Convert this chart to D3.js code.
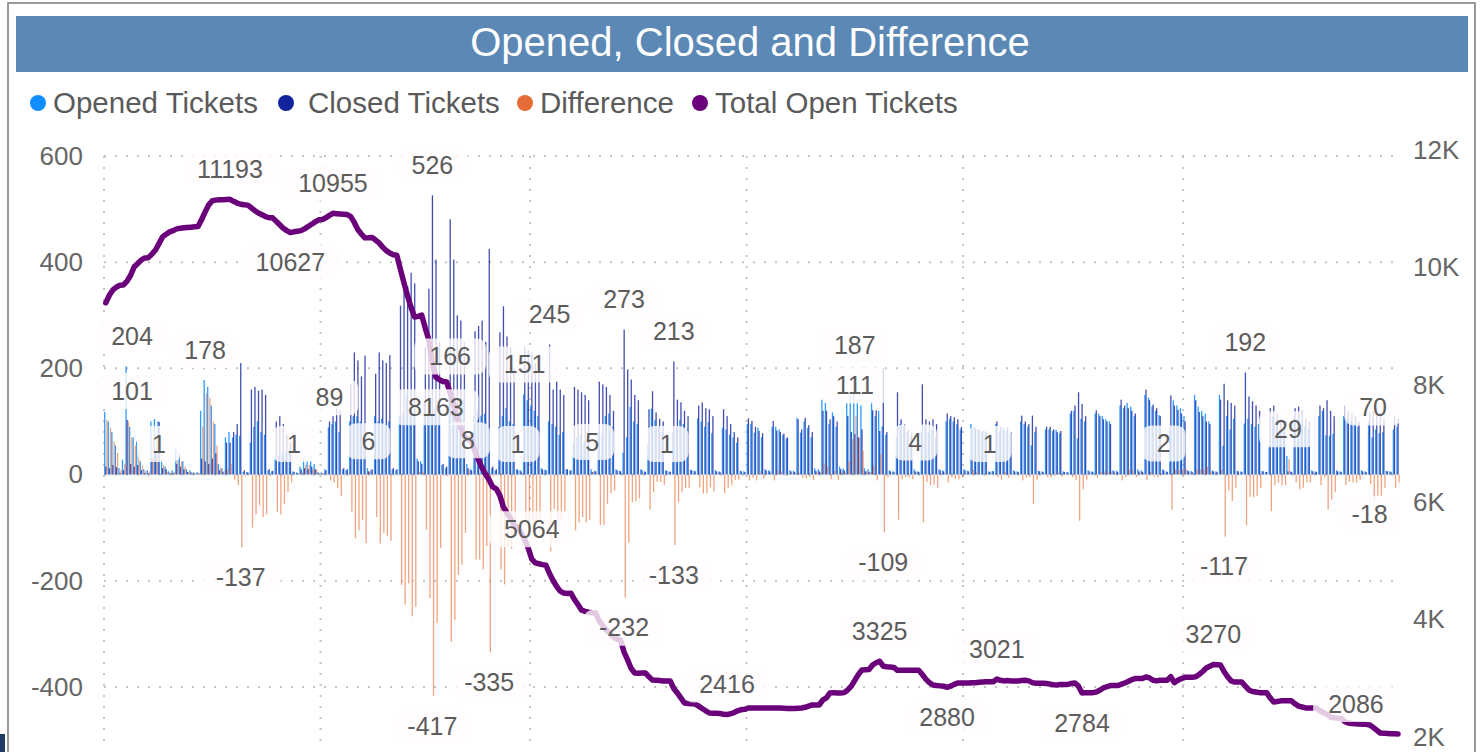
<!DOCTYPE html>
<html><head><meta charset="utf-8">
<script src="https://cdn.jsdelivr.net/npm/d3@7"></script>
<style>body{margin:0;background:#fff;} svg{display:block;font-family:"Liberation Sans",Arial,sans-serif;}</style>
</head><body><svg id="c" width="1482" height="752"></svg>
<script>
// ---------------- DATA ----------------
const startDate = "2022-11-01";   // daily series, one value per day (Tue..Mon rows)
const opened = [
118,100,80,55,12,28,204, 90,70,62,25,10,8,100, 105,100,30,15,6,8,48, 40,25,10,8,4,5,120,
178,165,130,95,20,12,70, 80,70,75,73,5,5,60, 90,100,80,75,8,6,30, 35,40,42,45,6,4,15,
30,28,25,20,5,4,10, 89,95,100,80,10,8,100, 110,110,100,95,12,8,110, 100,105,95,100,10,8,110,
115,150,113,111,30,25,136, 117,109,125,112,18,12,166, 131,111,120,140,20,10,110, 120,111,115,90,12,8,89,
110,125,100,95,10,8,151, 140,130,120,110,12,9,100, 95,90,75,80,10,7,60, 70,75,60,55,10,7,80,
75,110,115,90,10,7,41, 70,127,100,95,10,6,57, 124,103,91,80,8,6,80, 89,103,95,85,9,7,106,
100,90,99,78,8,6,88, 85,75,70,60,7,6,95, 95,79,88,70,10,8,90, 90,85,75,68,8,7,107,
79,100,88,70,12,10,141, 135,95,117,90,15,12,135, 147,187,140,130,12,10,138, 110,120,91,75,8,6,70,
95,90,80,70,10,6,80, 90,80,85,70,10,8,100, 105,100,95,85,10,7,95, 90,85,80,82,6,7,95,
80,90,82,78,8,6,100, 95,90,55,80,7,6,85, 85,82,84,78,6,5,115, 120,68,105,100,8,6,115,
115,110,104,100,8,7,130, 125,135,128,110,10,8,150, 145,128,120,112,10,6,83, 140,130,125,110,8,7,150,
128,120,115,100,8,6,150, 54,110,85,105,7,6,96, 105,95,90,95,7,5,56, 110,100,85,80,35,6,110,
100,95,90,85,8,6,110, 120,74,73,77,8,6,110, 106,100,95,90,8,6,100, 70,85,78,80,7,6,85,
90];
const closed = [
15,12,18,14,3,8,103, 20,15,18,8,3,2,30, 40,99,12,10,2,3,20, 15,10,5,4,2,2,30,
25,20,30,40,8,5,60, 60,80,95,210,8,4,160, 165,158,160,150,10,7,100, 110,95,75,60,5,3,10,
12,10,15,10,2,2,8, 100,110,125,121,12,10,170, 230,215,185,224,6,10,190, 230,215,210,225,12,10,318,
360,355,380,360,25,20,240, 350,526,405,250,20,15,481, 405,300,290,250,12,8,270, 280,290,250,425,15,10,268,
317,260,240,200,9,6,240, 235,230,210,200,10,8,245, 160,175,160,150,10,8,165, 160,155,150,140,5,6,175,
170,165,150,120,8,6,273, 198,179,150,140,8,5,123, 157,117,105,100,7,5,213, 141,136,120,110,8,6,130,
136,125,123,110,6,5,123, 110,95,80,70,6,5,106, 101,90,82,78,8,6,101, 83,80,77,70,6,5,104,
85,107,93,80,7,6,120, 120,104,110,100,10,8,110, 80,76,70,85,6,5,121, 121,82,200,80,6,5,155,
104,95,85,79,6,5,170, 104,100,104,95,8,6,115, 110,108,104,90,8,6,86, 86,84,82,80,5,6,100,
90,85,88,80,6,5,111, 100,95,111,90,6,5,90, 90,85,80,82,5,4,120, 130,155,133,110,6,5,121,
110,104,100,95,6,5,141, 130,125,120,115,6,5,160, 140,132,125,110,8,5,149, 130,122,115,100,6,5,140,
118,110,100,95,6,5,141, 171,140,135,130,6,5,192, 147,138,130,120,6,5,125, 130,115,105,100,6,5,125,
128,120,105,100,6,5,130, 125,140,120,110,6,5,130, 120,115,110,100,6,5,118, 120,125,118,105,6,5,110,
105];
const totalOpen = [
9430,9560,9650,9700,9730,9736,9800, 9900,10043,10100,10160,10196,10200,10260, 10330,10440,10554,10600,10640,10660,10690, 10700,10710,10715,10720,10725,10730,10850,
10980,11100,11170,11180,11185,11187,11190, 11193,11160,11130,11110,11100,11095,11050, 11000,10960,10930,10900,10880,10878,10820, 10760,10700,10660,10627,10640,10650,10660,
10690,10730,10770,10810,10844,10850,10880, 10920,10955,10950,10945,10940,10935,10900, 10800,10680,10600,10537,10540,10545,10500, 10450,10380,10320,10280,10250,10240,10000,
9770,9550,9350,9190,9200,9220,9000, 8800,8400,8163,8120,8090,8083,7900, 7700,7450,7300,7150,7100,7090,6900, 6754,6620,6510,6413,6294,6260,6150,
5953,5850,5760,5650,5600,5510,5400, 5250,5064,5000,4985,4970,4960,4820, 4700,4600,4520,4488,4480,4485,4380, 4290,4198,4175,4160,4150,4145,4010,
3930,3857,3800,3740,3700,3687,3480, 3346,3200,3125,3120,3125,3125,3060, 3005,3000,2995,2990,2990,2990,2860, 2784,2700,2613,2605,2600,2598,2560,
2520,2480,2443,2440,2438,2436,2420, 2416,2430,2450,2480,2500,2505,2528, 2528,2530,2530,2528,2528,2528,2530, 2528,2528,2525,2520,2520,2520,2525,
2528,2540,2560,2580,2580,2580,2665, 2700,2784,2790,2784,2784,2790,2835, 2900,3000,3100,3176,3180,3185,3260, 3300,3325,3240,3230,3225,3220,3170,
3170,3170,3172,3170,3170,3170,3100, 3020,2960,2920,2910,2905,2900,2880, 2900,2930,2954,2954,2954,2954,2960, 2960,2965,2970,2975,2975,2975,3021,
3000,2990,2995,2990,2990,2990,2995, 3000,2990,2960,2950,2950,2950,2945, 2935,2925,2920,2930,2930,2930,2945, 2954,2900,2784,2790,2790,2790,2800,
2830,2870,2890,2910,2910,2910,2930, 2954,2980,3010,3030,3030,3030,3056, 3040,3000,2990,3000,3000,3000,3060, 2960,3000,3030,3050,3050,3050,3060,
3100,3150,3210,3240,3270,3265,3260, 3150,3060,2990,2971,2970,2970,2900, 2835,2810,2800,2790,2790,2790,2700, 2630,2640,2650,2650,2650,2650,2600,
2560,2545,2530,2530,2530,2530,2480, 2450,2420,2375,2360,2355,2350,2300, 2273,2265,2260,2255,2250,2250,2240, 2200,2150,2102,2100,2095,2090,2088,
2086];
const difference = opened.map((v, i) => v - closed[i]);

const seriesNames = ["Opened Tickets", "Closed Tickets", "Difference", "Total Open Tickets"];
const leftTicks = [600, 400, 200, 0, -200, -400];
const rightTicks = [12000, 10000, 8000, 6000, 4000, 2000];
const gridDates = ["2022-11-01", "2023-01-01", "2023-03-01", "2023-05-01", "2023-07-01", "2023-09-01"];
// labelled points: series, day index, side
const labelSeries = ["total","total","total","total","total","total","total","total","total","total","total","total",
  "opened","opened","opened","opened","opened","opened","opened",
  "closed","closed","closed","closed","closed",
  "diff","diff","diff","diff","diff","diff","diff","diff","diff","diff","diff","diff","diff","diff","diff","diff","diff","diff","diff","diff","diff"];
const labelDay = [35,64,52,93,120,175,218,251,237,275,312,364,
  6,28,63,97,118,211,357,
  92,125,146,160,321,
  6,15,38,53,74,92,102,108,116,137,146,158,160,211,219,228,249,298,315,333,356];
const labelBelow = [0,0,1,1,0,0,0,0,1,1,0,0, 0,0,0,0,0,0,0, 0,0,0,0,0,
  0,0,1,0,0,1,0,1,0,0,1,0,1,0,1,0,0,0,1,0,1];

// ---------------- CHART ----------------
const svg = d3.select("#c");
const colors = d3.scaleOrdinal().domain(seriesNames).range(["#118DFF", "#12239E", "#E66C37", "#6B007B"]);
const parse = d3.utcParse("%Y-%m-%d");
const t0 = parse(startDate);
const days = opened.map((_, i) => d3.utcDay.offset(t0, i));
const x = d3.scaleUtc().domain([t0, d3.utcDay.offset(t0, 365)]).range([104, 104 + 365 * 3.55]);
const yL = d3.scaleLinear().domain([-500, 600]).range([740, 156]);
const yR = d3.scaleLinear().domain([2000, 12000]).range([739, 152]);
const bw = x(days[1]) - x(days[0]);

// frame + title
svg.append("rect").attr("x", 8).attr("y", 3).attr("width", 1467).attr("height", 800)
  .attr("fill", "none").attr("stroke", "#7a7a7a").attr("stroke-width", 1.5);
svg.append("rect").attr("x", 0).attr("y", 734).attr("width", 5).attr("height", 18).attr("fill", "#1f3b66");
svg.append("rect").attr("x", 16).attr("y", 16).attr("width", 1452).attr("height", 56).attr("fill", "#5b88b5");
svg.append("text").attr("x", 750).attr("y", 42).attr("dy", "0.35em").attr("text-anchor", "middle")
  .attr("fill", "#fff").attr("font-size", 40).text("Opened, Closed and Difference");

// legend
const legX = [38, 286, 525, 700];
const lg = svg.append("g").selectAll("g").data(seriesNames).join("g")
  .attr("transform", (d, i) => `translate(${legX[i]},103)`);
lg.append("circle").attr("r", 8).attr("fill", d => colors(d));
lg.append("text").attr("x", (d, i) => i === 1 ? 22 : 15).attr("dy", "0.35em").attr("font-size", 29.5)
  .attr("fill", "#5a5a5a").text(d => d);

// grid
const grid = svg.append("g").attr("stroke", "#c4c4c4").attr("stroke-width", 2).attr("stroke-dasharray", "2,9");
grid.selectAll("line.h").data(leftTicks).join("line").attr("class", "h")
  .attr("x1", 104).attr("x2", 1396).attr("y1", d => yL(d)).attr("y2", d => yL(d));
grid.selectAll("line.v").data(gridDates.map(parse)).join("line").attr("class", "v")
  .attr("x1", d => x(d)).attr("x2", d => x(d)).attr("y1", 156).attr("y2", 748);

// axes
const axL = svg.append("g").attr("transform", "translate(83,0)")
  .call(d3.axisLeft(yL).tickValues(leftTicks).tickSize(0).tickPadding(0).tickFormat(d => String(d)));
const axR = svg.append("g").attr("transform", "translate(1413,-2)")
  .call(d3.axisRight(yR).tickValues(rightTicks).tickSize(0).tickPadding(0).tickFormat(d => d / 1000 + "K"));
[axL, axR].forEach(a => {
  a.select(".domain").remove();
  a.selectAll("text").attr("font-size", 26).attr("fill", "#666").attr("font-family", "Liberation Sans, Arial, sans-serif");
});

// bars
const bars = svg.append("g");
const sub = [[opened, seriesNames[0], 0.1, 0.88], [closed, seriesNames[1], 1.2, 0.8], [difference, seriesNames[2], 2.3, 0.62]];
sub.forEach(([arr, name, off, op]) => {
  bars.append("g").attr("fill", colors(name)).attr("fill-opacity", op)
    .selectAll("rect").data(arr).join("rect")
    .attr("x", (d, i) => x(days[i]) + off)
    .attr("width", 1.3)
    .attr("y", d => yL(Math.max(0, d)))
    .attr("height", d => Math.abs(yL(d) - yL(0)));
});

// line
const line = d3.line().x((d, i) => x(days[i]) + bw / 2).y(d => yR(d)).curve(d3.curveLinear);
svg.append("path").datum(totalOpen).attr("d", line).attr("fill", "none")
  .attr("stroke", colors(seriesNames[3])).attr("stroke-width", 5.5).attr("stroke-linejoin", "round").attr("stroke-linecap", "round");

// data labels
const seriesArr = { total: totalOpen, opened: opened, closed: closed, diff: difference };
const lab = svg.append("g");
labelSeries.forEach((s, k) => {
  const i = labelDay[k];
  const v = seriesArr[s][i];
  const yScale = s === "total" ? yR : yL;
  const below = labelBelow[k] === 1;
  let cx = x(days[i]) + bw / 2;
  if (s === "total" && i === totalOpen.length - 1) cx -= 42;
  if (i === 6) cx += 5;
  const cy = yScale(v) + (below ? 30 : -30);
  const g = lab.append("g");
  const r = g.append("rect");
  const t = g.append("text").attr("x", cx).attr("y", cy).attr("dy", "0.35em").attr("text-anchor", "middle")
    .attr("font-size", 25).attr("fill", "#5c5c5c").text(v);
  const w = t.node().getComputedTextLength() + 30;
  r.attr("x", cx - w / 2).attr("y", cy - 18).attr("width", w).attr("height", 36).attr("rx", 9)
    .attr("fill", "#fffdfd").attr("fill-opacity", 0.8);
});
</script>
</body></html>
